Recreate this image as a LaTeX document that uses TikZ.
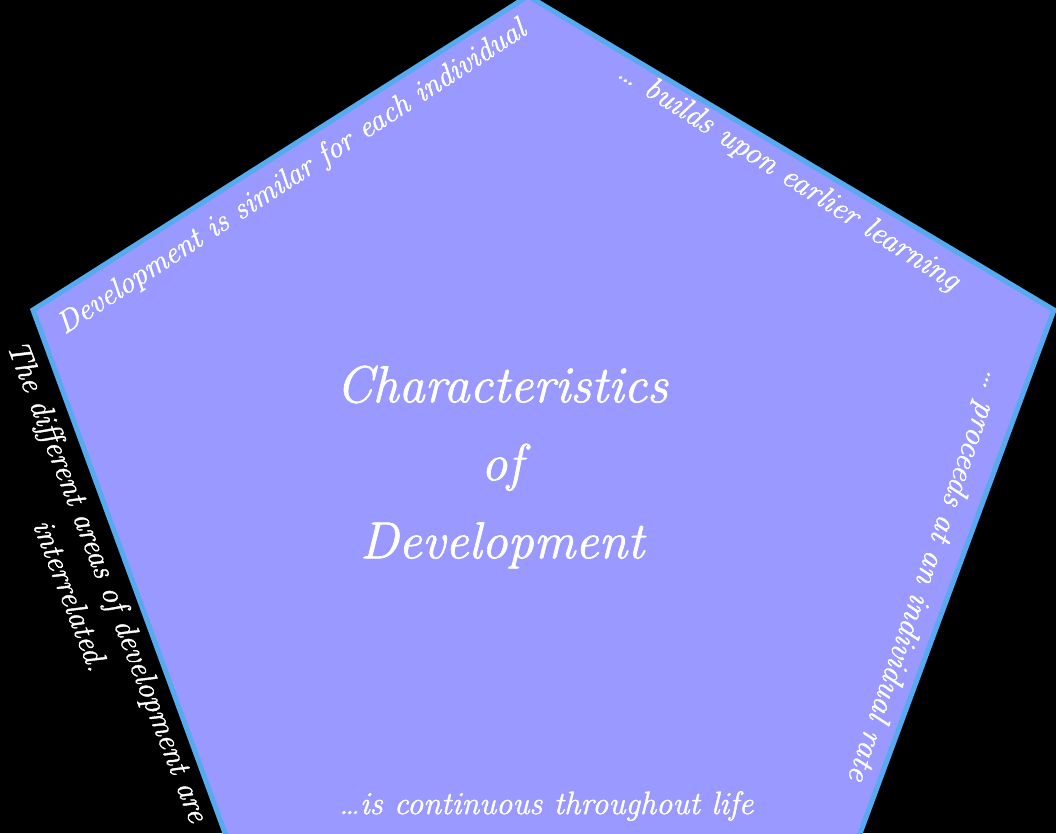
\documentclass[tikz,border=0pt]{standalone}
\usepackage{fontspec}
\setmainfont{Latin Modern Roman}[ItalicFeatures={FakeBold=1.3}]
\definecolor{penfill}{RGB}{153,153,255}
\definecolor{penedge}{RGB}{85,170,240}
\tikzset{
  edgetext/.style={text=white, inner sep=0pt, align=center},
  titletext/.style={text=white, font=\fontsize{52}{78}\selectfont\itshape, inner sep=0pt, align=center},
}
\newcommand{\edgefont}[1]{\fontsize{#1}{40}\selectfont\itshape}
\begin{document}
\begin{tikzpicture}[x=1pt,y=1pt]
\useasboundingbox (0,0) rectangle (1056,833);
\fill[black] (0,0) rectangle (1056,833);
\begin{scope}
\clip (0,0) rectangle (1056,833);
\coordinate (T) at (528,837);
\coordinate (L) at (33,523);
\coordinate (R) at (1054,523);
\coordinate (BR) at (838,-60);
\coordinate (BL) at (247,-60);
\draw[penedge, line width=5pt, fill=penfill, line join=miter] (T) -- (R) -- (BR) -- (BL) -- (L) -- cycle;
\end{scope}
\node[titletext] (title) at (502,366) {Characteristics\\of\\Development};
\node[edgetext, font=\edgefont{30.5}, rotate=33] (t1) at (292,655) {Development is similar for each individual};
\node[edgetext, font=\edgefont{31.6}, rotate=-32.5] (t2) at (788,656) {\dots\ builds upon earlier learning};
\node[edgetext, font=\edgefont{32}, rotate=-109] (t3) at (926,257) {\dots\ proceeds at an individual rate};
\node[edgetext, font=\edgefont{32.4}] (t4) at (546,27) {\dots is continuous throughout life};
\node[edgetext, font=\edgefont{31.2}, rotate=-69] (t5) at (90,245) {The different areas of development are\\interrelated.};
\end{tikzpicture}
\end{document}
